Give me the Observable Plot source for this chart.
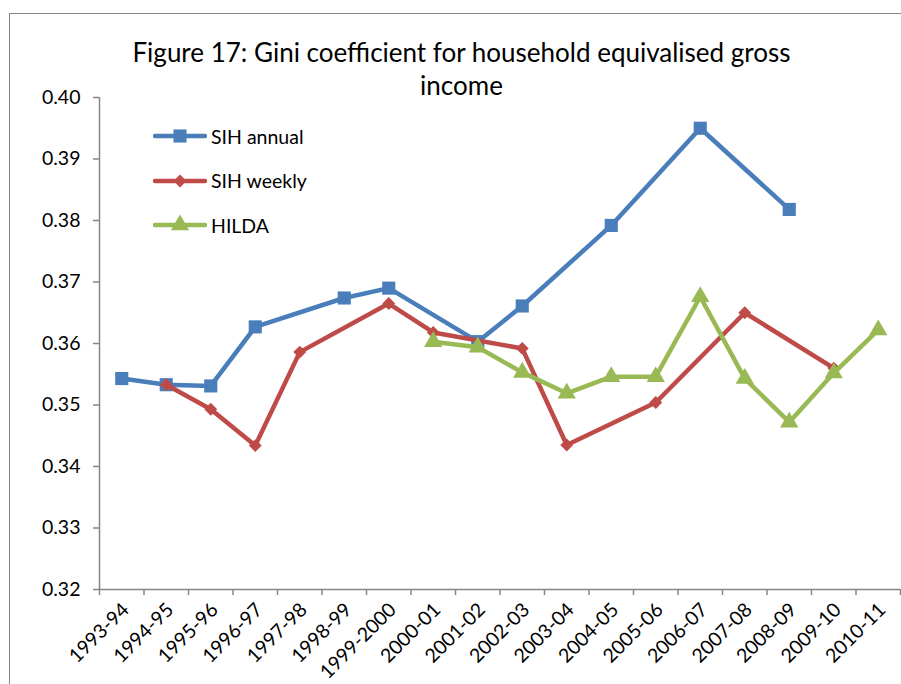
<!DOCTYPE html>
<html>
<head>
<meta charset="utf-8">
<script src="https://cdn.jsdelivr.net/npm/d3@7"></script>
<script src="https://cdn.jsdelivr.net/npm/@observablehq/plot@0.6"></script>
<style>
  body { margin: 0; background: #fff; font-family: Lato, "Open Sans", sans-serif; }
  #wrap { position: relative; width: 901px; height: 684px; overflow: hidden; }
  #frame { position: absolute; left: 9px; top: 13px; width: 1000px; height: 1000px; border: 1px solid #868686; box-sizing: border-box; }
  #title { position: absolute; left: 0; width: 923px; top: 36px; text-align: center; font-size: 26px; line-height: 33px; color: #000; }
  #legend { position: absolute; left: 153px; top: 124px; font-size: 19.5px; }
  #legend div { display: flex; align-items: center; height: 24px; margin-bottom: 20.5px; }
  #legend svg { margin-right: 4px; }
  #chart { position: absolute; left: 0; top: 0; }
</style>
</head>
<body>
<div id="wrap">
  <div id="frame"></div>
  <div id="chart"></div>
  <div id="title">Figure 17: Gini coefficient for household equivalised gross<br>income</div>
  <div id="legend"></div>
</div>
<script>
const years = ["1993-94","1994-95","1995-96","1996-97","1997-98","1998-99","1999-2000","2000-01","2001-02","2002-03","2003-04","2004-05","2005-06","2006-07","2007-08","2008-09","2009-10","2010-11"];
const sihAnnual = [0.3543,0.3533,0.3531,0.3627,null,0.3674,0.3690,null,0.3603,0.3661,null,0.3792,null,0.3950,null,0.3818,null,null];
const sihWeekly = [null,0.3533,0.3493,0.3434,0.3586,null,0.3665,0.3618,null,0.3592,0.3435,null,0.3504,null,0.3650,null,0.3560,null];
const hilda = [null,null,null,null,null,null,null,0.3603,0.3594,0.3553,0.3519,0.3546,0.3546,0.3676,0.3543,0.3472,0.3552,0.3622];

const seriesNames = ["SIH annual","SIH weekly","HILDA"];
const seriesColors = ["#4a7ebb","#be4b48","#98b954"];
const seriesSymbols = ["square","diamond2","triangle"];
const seriesR = [7.4,5.8,6.8];

const rows = (vals, name) => vals.map((v, i) => ({x: i + 0.5, y: v, name})).filter(d => d.y != null);
const all = [rows(sihAnnual, seriesNames[0]), rows(sihWeekly, seriesNames[1]), rows(hilda, seriesNames[2])];

const grey = "#868686";
const marks = [];
all.forEach((d, k) => {
  marks.push(Plot.line(d, {x: "x", y: "y", stroke: seriesColors[k], strokeWidth: 4.5, strokeLinejoin: "round"}));
  marks.push(Plot.dot(d, {x: "x", y: "y", fill: seriesColors[k], symbol: () => seriesSymbols[k], r: seriesR[k]}));
});

const chart = Plot.plot({
  width: 901,
  height: 684,
  marginLeft: 99,
  marginRight: 1,
  marginTop: 97,
  marginBottom: 95,
  style: {fontFamily: "Lato, 'Open Sans', sans-serif", fontSize: "19.5px", color: "#000", background: "transparent"},
  x: {type: "linear", domain: [0, years.length], axis: null},
  y: {domain: [0.32, 0.40], axis: null},
  marks: [
    Plot.axisY({ticks: d3.range(0, 9).map(i => 0.32 + i * 0.01), tickFormat: ".2f", tickSize: 6, tickPadding: 13, stroke: grey, strokeWidth: 1.5, fill: "#000", label: null}),
    Plot.axisX({ticks: d3.range(0, years.length + 1), tickSize: 6, tickFormat: () => "", stroke: grey, strokeWidth: 1.5, label: null}),
    Plot.axisX({ticks: years.map((y, i) => i + 0.5), tickSize: 0, tickPadding: 17, dx: 4, tickRotate: -45, tickFormat: v => years[Math.round(v - 0.5)], fill: "#000", label: null}),
    Plot.ruleX([0], {stroke: grey, strokeWidth: 1.5}),
    Plot.ruleY([0.32], {stroke: grey, strokeWidth: 1.5}),
    ...marks
  ]
});
document.getElementById("chart").append(chart);

// legend
const leg = d3.select("#legend");
seriesNames.forEach((n, k) => {
  const row = leg.append("div");
  const s = row.append("svg").attr("width", 54).attr("height", 24);
  s.append("line").attr("x1", 2).attr("x2", 52).attr("y1", 12).attr("y2", 12)
    .attr("stroke", seriesColors[k]).attr("stroke-width", 4.5).attr("stroke-linecap", "round");
  const sym = {square: d3.symbolSquare, diamond2: d3.symbolDiamond2, triangle: d3.symbolTriangle}[seriesSymbols[k]];
  s.append("path").attr("transform", "translate(27,12)")
    .attr("d", d3.symbol(sym, Math.PI * seriesR[k] * seriesR[k])()).attr("fill", seriesColors[k]);
  row.append("span").text(n);
});
</script>
</body>
</html>
